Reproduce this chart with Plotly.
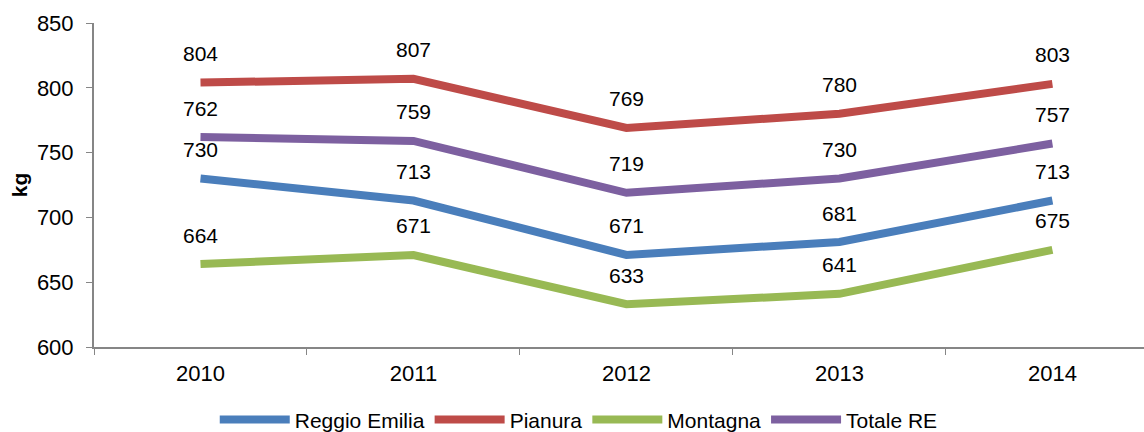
import plotly.graph_objects as go

years = ["2010", "2011", "2012", "2013", "2014"]
reggio = [730, 713, 671, 681, 713]
pianura = [804, 807, 769, 780, 803]
montagna = [664, 671, 633, 641, 675]
totale = [762, 759, 719, 730, 757]

series = [
    ("Reggio Emilia", reggio, "#4A7EBB"),
    ("Pianura", pianura, "#BE4B48"),
    ("Montagna", montagna, "#98B954"),
    ("Totale RE", totale, "#7D60A0"),
]

FONT = "Liberation Sans, Arial, sans-serif"
fig = go.Figure()
annotations = []
for name, vals, col in series:
    fig.add_trace(go.Scatter(x=years, y=vals, mode="lines", name=name,
                             line=dict(color=col, width=8)))
    for i, v in enumerate(vals):
        annotations.append(dict(x=i, y=v, xref="x", yref="y", text=str(v), showarrow=False,
                                yshift=29, font=dict(size=21, color="#000000", family=FONT)))

fig.update_layout(
    width=1144, height=432,
    margin=dict(l=94, r=0, t=23, b=85),
    plot_bgcolor="white", paper_bgcolor="white",
    font=dict(family=FONT, size=21, color="#000000"),
    annotations=annotations,
    showlegend=True,
    legend=dict(orientation="h", x=0.115, xanchor="left", yref="container", y=0.028,
                yanchor="middle", font=dict(size=21), itemwidth=70,
                bgcolor="rgba(0,0,0,0)"),
    xaxis=dict(type="category", range=[-0.5, 4.43], showline=True, linecolor="#868686",
               linewidth=2, ticks="outside", tickson="boundaries", ticklen=6,
               tickcolor="#868686", showgrid=False, zeroline=False, automargin=False,
               ticklabelstandoff=6, tickfont=dict(size=22)),
    yaxis=dict(range=[600, 850], dtick=50, showline=True, linecolor="#868686",
               linewidth=2, ticks="outside", ticklen=6, tickcolor="#868686",
               showgrid=False, zeroline=False, tickfont=dict(size=22), automargin=False,
               ticklabelstandoff=8,
               title=dict(text="<b>kg</b>", font=dict(size=21), standoff=4)),
)

fig.write_html("out.html", config={"displayModeBar": False},
               post_script="document.body.style.margin='0';")
